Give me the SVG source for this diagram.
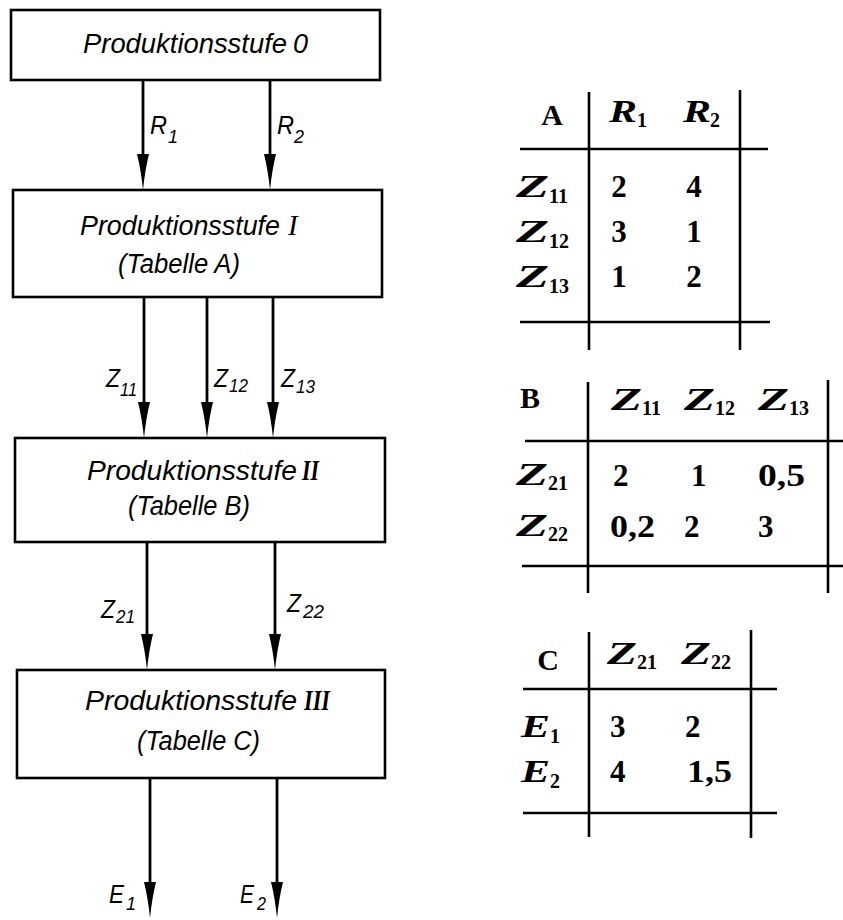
<svg xmlns="http://www.w3.org/2000/svg" width="843" height="920" viewBox="0 0 843 920">
  <style>
    .box { fill: none; stroke: #000; stroke-width: 2.6; }
    .flow { stroke: #000; stroke-width: 2.8; fill: none; marker-end: url(#head); }
    .rule { stroke: #000; stroke-width: 2.6; }
    .st { font-family: "Liberation Sans", Arial, sans-serif; font-style: italic; font-size: 27px; fill: #000; }
    .num { font-family: "Liberation Serif", "Times New Roman", serif; font-style: italic; font-size: 29px; fill: #000; }
    .numb { font-family: "Liberation Serif", "Times New Roman", serif; font-style: italic; font-weight: bold; font-size: 29px; fill: #000; }
    .lbl { font-family: "Liberation Sans", Arial, sans-serif; font-style: italic; font-size: 26px; fill: #000; }
    .lsub { font-family: "Liberation Sans", Arial, sans-serif; font-style: italic; font-size: 18px; fill: #000; }
    .th { font-family: "Liberation Serif", "Times New Roman", serif; font-weight: bold; font-size: 30px; fill: #000; text-anchor: middle; }
    .tv { font-family: "Liberation Serif", "Times New Roman", serif; font-weight: bold; font-size: 31px; fill: #000; }
    .tc { text-anchor: middle; }
    .ti { font-family: "Liberation Serif", "Times New Roman", serif; font-weight: bold; font-style: italic; font-size: 32px; fill: #000; }
    .ts { font-family: "Liberation Serif", "Times New Roman", serif; font-weight: bold; font-size: 20px; fill: #000; }
  </style>
  <defs>
    <marker id="head" markerUnits="userSpaceOnUse" viewBox="-16 -6.5 36 13" refX="0" refY="0" markerWidth="36" markerHeight="13" orient="auto">
      <path d="M-16,-6 Q0,-2 20,0 Q0,2 -16,6 Z" fill="#000"/>
    </marker>
  </defs>
  <rect width="843" height="920" fill="#fff"/>

  <!-- production stages -->
  <g id="stufe0">
    <rect class="box" x="11" y="10" width="369" height="70"/>
    <text class="st" x="83" y="53" textLength="204" lengthAdjust="spacingAndGlyphs">Produktionsstufe</text>
    <text class="st" x="293" y="53">0</text>
  </g>
  <g id="stufe1">
    <rect class="box" x="13" y="190" width="369" height="107"/>
    <text class="st" x="80" y="235" textLength="200" lengthAdjust="spacingAndGlyphs">Produktionsstufe</text>
    <text class="num" x="288" y="235">I</text>
    <text class="st" x="118" y="273" textLength="122" lengthAdjust="spacingAndGlyphs">(Tabelle A)</text>
  </g>
  <g id="stufe2">
    <rect class="box" x="15" y="438" width="370" height="104"/>
    <text class="st" x="87" y="480" textLength="210" lengthAdjust="spacingAndGlyphs">Produktionsstufe</text>
    <text class="numb" x="302" y="480" textLength="17" lengthAdjust="spacingAndGlyphs">II</text>
    <text class="st" x="128" y="515" textLength="122" lengthAdjust="spacingAndGlyphs">(Tabelle B)</text>
  </g>
  <g id="stufe3">
    <rect class="box" x="17" y="670" width="368" height="108"/>
    <text class="st" x="85" y="710" textLength="212" lengthAdjust="spacingAndGlyphs">Produktionsstufe</text>
    <text class="numb" x="304" y="710" textLength="26" lengthAdjust="spacingAndGlyphs">III</text>
    <text class="st" x="137" y="750" textLength="123" lengthAdjust="spacingAndGlyphs">(Tabelle C)</text>
  </g>

  <!-- material flows between the stages -->
  <g id="connectors">
    <line class="flow" x1="143" y1="80" x2="143" y2="170"/>
    <line class="flow" x1="270" y1="80" x2="270" y2="170"/>
    <line class="flow" x1="144" y1="297" x2="144" y2="418"/>
    <line class="flow" x1="207" y1="297" x2="207" y2="418"/>
    <line class="flow" x1="273" y1="297" x2="273" y2="418"/>
    <line class="flow" x1="147" y1="542" x2="147" y2="650"/>
    <line class="flow" x1="275" y1="542" x2="275" y2="650"/>
    <line class="flow" x1="150" y1="778" x2="150" y2="898"/>
    <line class="flow" x1="277" y1="778" x2="277" y2="898"/>

    <text class="lbl" x="150" y="134" textLength="17" lengthAdjust="spacingAndGlyphs">R</text><text class="lsub" x="168" y="143">1</text>
    <text class="lbl" x="277" y="134" textLength="17" lengthAdjust="spacingAndGlyphs">R</text><text class="lsub" x="294" y="143">2</text>
    <text class="lbl" x="106" y="387" textLength="14" lengthAdjust="spacingAndGlyphs">Z</text><text class="lsub" x="120" y="396" textLength="17" lengthAdjust="spacingAndGlyphs">11</text>
    <text class="lbl" x="214" y="387" textLength="14" lengthAdjust="spacingAndGlyphs">Z</text><text class="lsub" x="229" y="392" textLength="19" lengthAdjust="spacingAndGlyphs">12</text>
    <text class="lbl" x="281" y="387" textLength="14" lengthAdjust="spacingAndGlyphs">Z</text><text class="lsub" x="296" y="393" textLength="19" lengthAdjust="spacingAndGlyphs">13</text>
    <text class="lbl" x="101" y="618" textLength="14" lengthAdjust="spacingAndGlyphs">Z</text><text class="lsub" x="116" y="623" textLength="19" lengthAdjust="spacingAndGlyphs">21</text>
    <text class="lbl" x="287" y="612" textLength="14" lengthAdjust="spacingAndGlyphs">Z</text><text class="lsub" x="303" y="618" textLength="21" lengthAdjust="spacingAndGlyphs">22</text>
    <text class="lbl" x="109" y="903" textLength="15" lengthAdjust="spacingAndGlyphs">E</text><text class="lsub" x="126" y="910">1</text>
    <text class="lbl" x="240" y="903" textLength="14" lengthAdjust="spacingAndGlyphs">E</text><text class="lsub" x="257" y="910" textLength="9" lengthAdjust="spacingAndGlyphs">2</text>
  </g>

  <!-- Table A: R -> Z1 -->
  <g id="tabelleA">
    <line class="rule" x1="589" y1="92" x2="589" y2="350"/>
    <line class="rule" x1="740" y1="90" x2="740" y2="350"/>
    <line class="rule" x1="520" y1="149" x2="768" y2="149"/>
    <line class="rule" x1="520" y1="322" x2="770" y2="322"/>
    <text class="th" x="552" y="125">A</text>
    <text class="ti" x="609" y="122" textLength="28" lengthAdjust="spacingAndGlyphs">R</text><text class="ts" x="637" y="127">1</text>
    <text class="ti" x="683" y="122" textLength="28" lengthAdjust="spacingAndGlyphs">R</text><text class="ts" x="710" y="127">2</text>
    <text class="ti" x="516" y="197" textLength="33" lengthAdjust="spacingAndGlyphs">Z</text><text class="ts" x="549" y="203">11</text>
    <text class="ti" x="516" y="242" textLength="33" lengthAdjust="spacingAndGlyphs">Z</text><text class="ts" x="549" y="248">12</text>
    <text class="ti" x="516" y="287" textLength="33" lengthAdjust="spacingAndGlyphs">Z</text><text class="ts" x="549" y="293">13</text>
    <text class="tv tc" x="619" y="197">2</text><text class="tv tc" x="694" y="197">4</text>
    <text class="tv tc" x="619" y="242">3</text><text class="tv tc" x="694" y="242">1</text>
    <text class="tv tc" x="619" y="287">1</text><text class="tv tc" x="694" y="287">2</text>
  </g>

  <!-- Table B: Z1 -> Z2 -->
  <g id="tabelleB">
    <line class="rule" x1="588" y1="382" x2="588" y2="593"/>
    <line class="rule" x1="828" y1="380" x2="828" y2="593"/>
    <line class="rule" x1="525" y1="441" x2="843" y2="441"/>
    <line class="rule" x1="522" y1="566" x2="843" y2="566"/>
    <text class="th" x="530" y="408">B</text>
    <text class="ti" x="611" y="410" textLength="31" lengthAdjust="spacingAndGlyphs">Z</text><text class="ts" x="642" y="415">11</text>
    <text class="ti" x="684" y="410" textLength="31" lengthAdjust="spacingAndGlyphs">Z</text><text class="ts" x="715" y="415">12</text>
    <text class="ti" x="758" y="410" textLength="31" lengthAdjust="spacingAndGlyphs">Z</text><text class="ts" x="789" y="415">13</text>
    <text class="ti" x="516" y="485" textLength="32" lengthAdjust="spacingAndGlyphs">Z</text><text class="ts" x="548" y="490">21</text>
    <text class="ti" x="516" y="536" textLength="32" lengthAdjust="spacingAndGlyphs">Z</text><text class="ts" x="548" y="541">22</text>
    <text class="tv" x="613" y="486">2</text>
    <text class="tv" x="691" y="486">1</text>
    <text class="tv" x="758" y="486" textLength="47" lengthAdjust="spacingAndGlyphs">0,5</text>
    <text class="tv" x="610" y="537" textLength="45" lengthAdjust="spacingAndGlyphs">0,2</text>
    <text class="tv" x="684" y="537">2</text>
    <text class="tv" x="758" y="537">3</text>
  </g>

  <!-- Table C: Z2 -> E -->
  <g id="tabelleC">
    <line class="rule" x1="589" y1="632" x2="589" y2="837"/>
    <line class="rule" x1="751" y1="630" x2="751" y2="838"/>
    <line class="rule" x1="523" y1="689" x2="777" y2="689"/>
    <line class="rule" x1="523" y1="813" x2="777" y2="813"/>
    <text class="th" x="548" y="670">C</text>
    <text class="ti" x="607" y="664" textLength="30" lengthAdjust="spacingAndGlyphs">Z</text><text class="ts" x="637" y="669">21</text>
    <text class="ti" x="681" y="664" textLength="30" lengthAdjust="spacingAndGlyphs">Z</text><text class="ts" x="711" y="669">22</text>
    <text class="ti" x="521" y="737" textLength="29" lengthAdjust="spacingAndGlyphs">E</text><text class="ts" x="550" y="743">1</text>
    <text class="ti" x="521" y="782" textLength="29" lengthAdjust="spacingAndGlyphs">E</text><text class="ts" x="550" y="788">2</text>
    <text class="tv" x="610" y="737">3</text>
    <text class="tv" x="685" y="737">2</text>
    <text class="tv" x="610" y="782">4</text>
    <text class="tv" x="687" y="782" textLength="45" lengthAdjust="spacingAndGlyphs">1,5</text>
  </g>
</svg>
